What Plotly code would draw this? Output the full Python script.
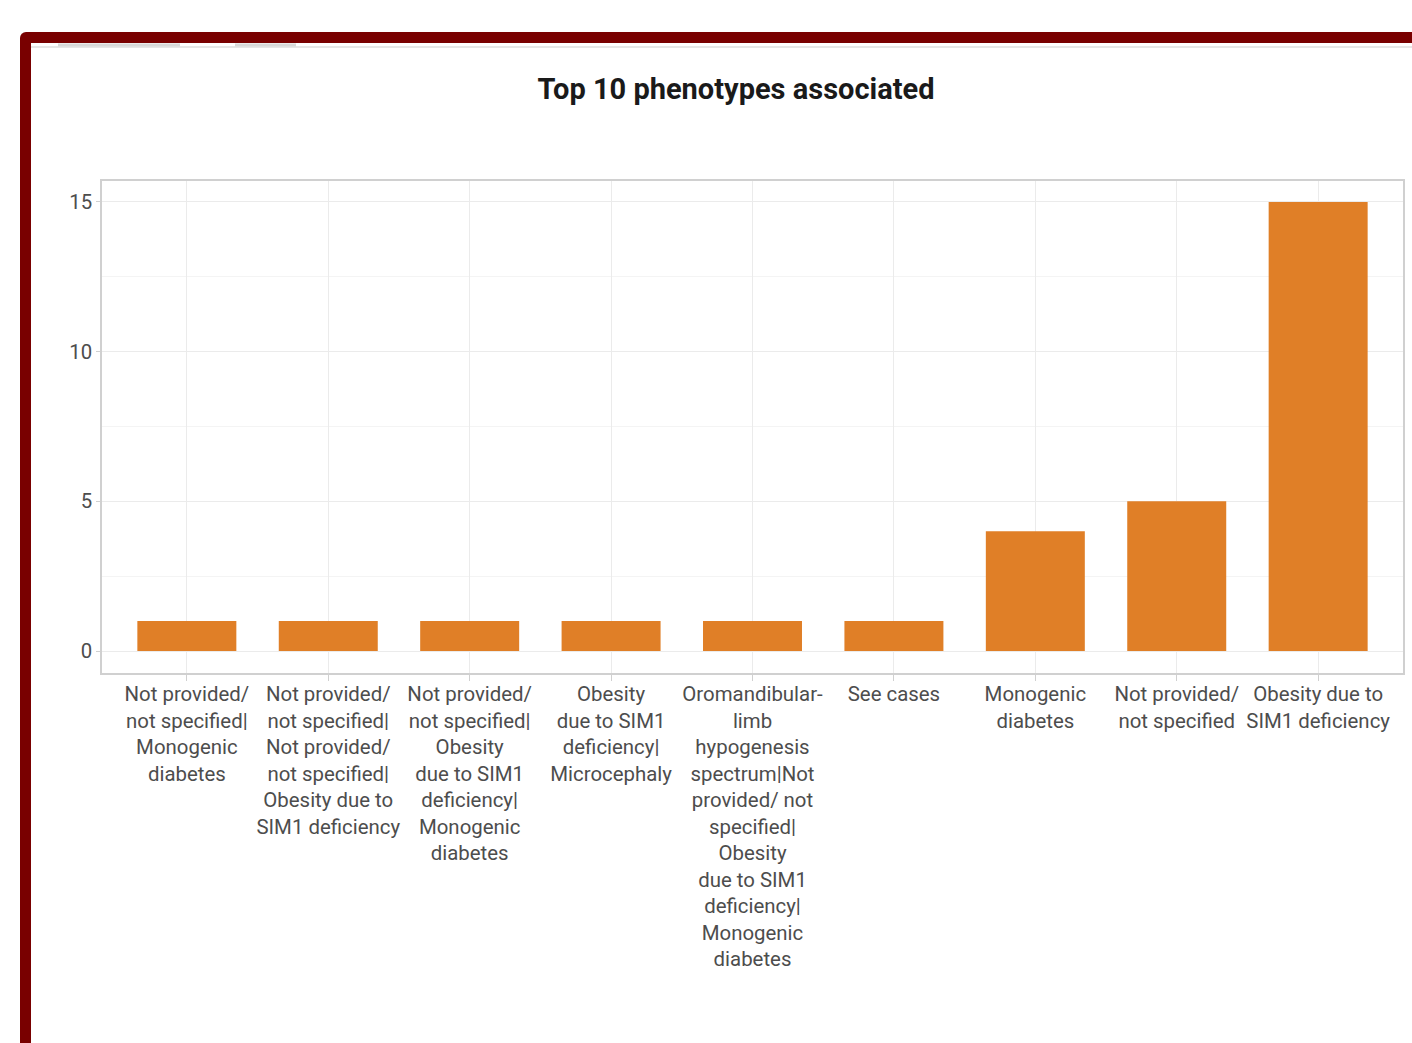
import plotly.graph_objects as go

categories = [
    "Not provided/ not specified|Monogenic diabetes",
    "Not provided/ not specified|Not provided/ not specified|Obesity due to SIM1 deficiency",
    "Not provided/ not specified|Obesity due to SIM1 deficiency|Monogenic diabetes",
    "Obesity due to SIM1 deficiency|Microcephaly",
    "Oromandibular-limb hypogenesis spectrum|Not provided/ not specified|Obesity due to SIM1 deficiency|Monogenic diabetes",
    "See cases",
    "Monogenic diabetes",
    "Not provided/ not specified",
    "Obesity due to SIM1 deficiency",
]
counts = [1, 1, 1, 1, 1, 1, 4, 5, 15]
tick_labels = [
    "Not provided/<br>not specified|<br>Monogenic<br>diabetes",
    "Not provided/<br>not specified|<br>Not provided/<br>not specified|<br>Obesity due to<br>SIM1 deficiency",
    "Not provided/<br>not specified|<br>Obesity<br>due to SIM1<br>deficiency|<br>Monogenic<br>diabetes",
    "Obesity<br>due to SIM1<br>deficiency|<br>Microcephaly",
    "Oromandibular-<br>limb<br>hypogenesis<br>spectrum|Not<br>provided/ not<br>specified|<br>Obesity<br>due to SIM1<br>deficiency|<br>Monogenic<br>diabetes",
    "See cases",
    "Monogenic<br>diabetes",
    "Not provided/<br>not specified",
    "Obesity due to<br>SIM1 deficiency",
]
y_ticks = [0, 5, 10, 15]
title = "Top 10 phenotypes associated"

W, H = 1412, 1043
# plot area in page pixels
L, R, T, B = 102, 1403, 181, 673

def px(x):
    return (x - L) / (R - L)

def py(y):
    return (B - y) / (B - T)

fig = go.Figure()
fig.add_trace(go.Bar(
    x=categories, y=counts, width=0.7,
    marker=dict(color="#e07f27", line=dict(width=0)),
))

frame = "#790000"
shapes = [
    dict(type="rect", xref="paper", yref="paper",
         x0=px(20), x1=px(31), y0=py(1060), y1=py(38), fillcolor=frame, line=dict(width=0), layer="above"),
    dict(type="rect", xref="paper", yref="paper",
         x0=px(26), x1=px(1420), y0=py(43), y1=py(32), fillcolor=frame, line=dict(width=0), layer="above"),
    dict(type="circle", xref="paper", yref="paper",
         x0=px(20), x1=px(32), y0=py(44), y1=py(32), fillcolor=frame, line=dict(width=0), layer="above"),
    dict(type="line", xref="paper", yref="paper",
         x0=px(31), x1=px(1412), y0=py(47), y1=py(47), line=dict(color="#e6e6e6", width=2)),
    dict(type="line", xref="paper", yref="paper",
         x0=px(58), x1=px(180), y0=py(45), y1=py(45), line=dict(color="#d8d8d8", width=3)),
    dict(type="line", xref="paper", yref="paper",
         x0=px(235), x1=px(296), y0=py(45), y1=py(45), line=dict(color="#d8d8d8", width=3)),
]

fig.update_layout(
    width=W, height=H,
    margin=dict(l=L, r=W - R, t=T, b=H - B, autoexpand=False),
    paper_bgcolor="white", plot_bgcolor="white",
    showlegend=False,
    title=dict(text="<b>" + title + "</b>", x=736 / W, xref="container", xanchor="center",
               y=1 - 89 / H, yref="container", yanchor="middle",
               font=dict(family="Roboto, sans-serif", size=29, color="#1a1a1a")),
    font=dict(family="Roboto, sans-serif", color="#4d4d4d"),
    shapes=shapes,
)
fig.update_xaxes(
    range=[-0.6, 8.6], tickmode="array", tickvals=categories, ticktext=tick_labels,
    tickangle=0, tickfont=dict(size=20.4, color="#4d4d4d"),
    showgrid=True, gridcolor="#ebebeb", gridwidth=1,
    ticks="outside", ticklen=6, tickcolor="#d0d0d0", ticklabelstandoff=-4,
    showline=True, linecolor="#d0d0d0", linewidth=1.5, mirror=True, zeroline=False,
)
fig.update_yaxes(
    range=[-0.735, 15.7], tickmode="array", tickvals=y_ticks,
    tickfont=dict(size=20.4, color="#4d4d4d"),
    showgrid=True, gridcolor="#ebebeb", gridwidth=1,
    minor=dict(tickmode="array", tickvals=[2.5, 7.5, 12.5], showgrid=True, gridcolor="#f4f4f4", gridwidth=1),
    ticks="outside", ticklen=4, tickcolor="#d0d0d0",
    showline=True, linecolor="#d0d0d0", linewidth=1.5, mirror=True, zeroline=False,
)

fig.write_html(
    "out.html",
    config={"displayModeBar": False},
    post_script="document.body.style.margin='0';document.body.style.overflow='hidden';",
)
